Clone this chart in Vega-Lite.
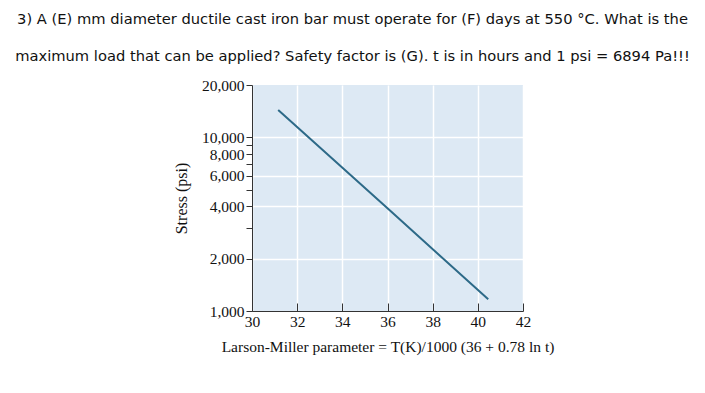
{
  "$schema": "https://vega.github.io/schema/vega-lite/v6.json",
  "autosize": "none",
  "width": 271,
  "height": 226,
  "padding": {"left": 252, "top": 85, "right": 182, "bottom": 82},
  "background": "white",
  "title": {
    "text": ["3) A (E) mm diameter ductile cast iron bar must operate for (F) days at 550 °C. What is the", "maximum load that can be applied? Safety factor is (G). t is in hours and 1 psi = 6894 Pa!!!"],
    "anchor": "middle",
    "frame": "group",
    "dx": -35,
    "dy": -4,
    "font": "DejaVu Sans",
    "fontSize": 14.7,
    "fontWeight": "normal",
    "color": "#111",
    "lineHeight": 37,
    "offset": 10
  },
  "config": {
    "view": {"fill": "#dde9f4", "stroke": null},
    "axis": {
      "labelFont": "Liberation Serif",
      "titleFont": "Liberation Serif",
      "labelFontSize": 15.5,
      "titleFontSize": 15.5,
      "labelColor": "#111",
      "titleColor": "#111",
      "titleFontWeight": "normal",
      "domainColor": "#333",
      "tickColor": "#333",
      "gridColor": "white",
      "gridWidth": 1.5,
      "labelOverlap": false
    }
  },
  "data": {
    "values": [
      {"lmp": 31.16, "stress": 14350},
      {"lmp": 36.0, "stress": 3900},
      {"lmp": 40.46, "stress": 1167}
    ]
  },
  "mark": {"type": "line", "color": "#2d6a88", "strokeWidth": 2},
  "encoding": {
    "x": {
      "field": "lmp",
      "type": "quantitative",
      "scale": {"domain": [30, 42], "nice": false, "zero": false},
      "axis": {
        "values": [30, 32, 34, 36, 38, 40, 42],
        "tickSize": -8,
        "labelPadding": 11,
        "labelFlush": false,
        "title": "Larson-Miller parameter = T(K)/1000 (36 + 0.78 ln t)",
        "titlePadding": 10
      }
    },
    "y": {
      "field": "stress",
      "type": "quantitative",
      "scale": {"type": "log", "domain": [1000, 20000], "nice": false},
      "axis": {
        "values": [1000, 2000, 3000, 4000, 5000, 6000, 7000, 8000, 9000, 10000, 20000],
        "labelExpr": "indexof([1000,2000,4000,6000,8000,10000,20000], datum.value) >= 0 ? format(datum.value, ',') : ''",
        "tickSize": 6,
        "labelPadding": 2,
        "gridOpacity": {"condition": {"test": "indexof([2000,4000,6000,10000], datum.value) >= 0", "value": 1}, "value": 0},
        "title": "Stress (psi)",
        "titleFontSize": 16,
        "titlePadding": 12
      }
    }
  }
}
